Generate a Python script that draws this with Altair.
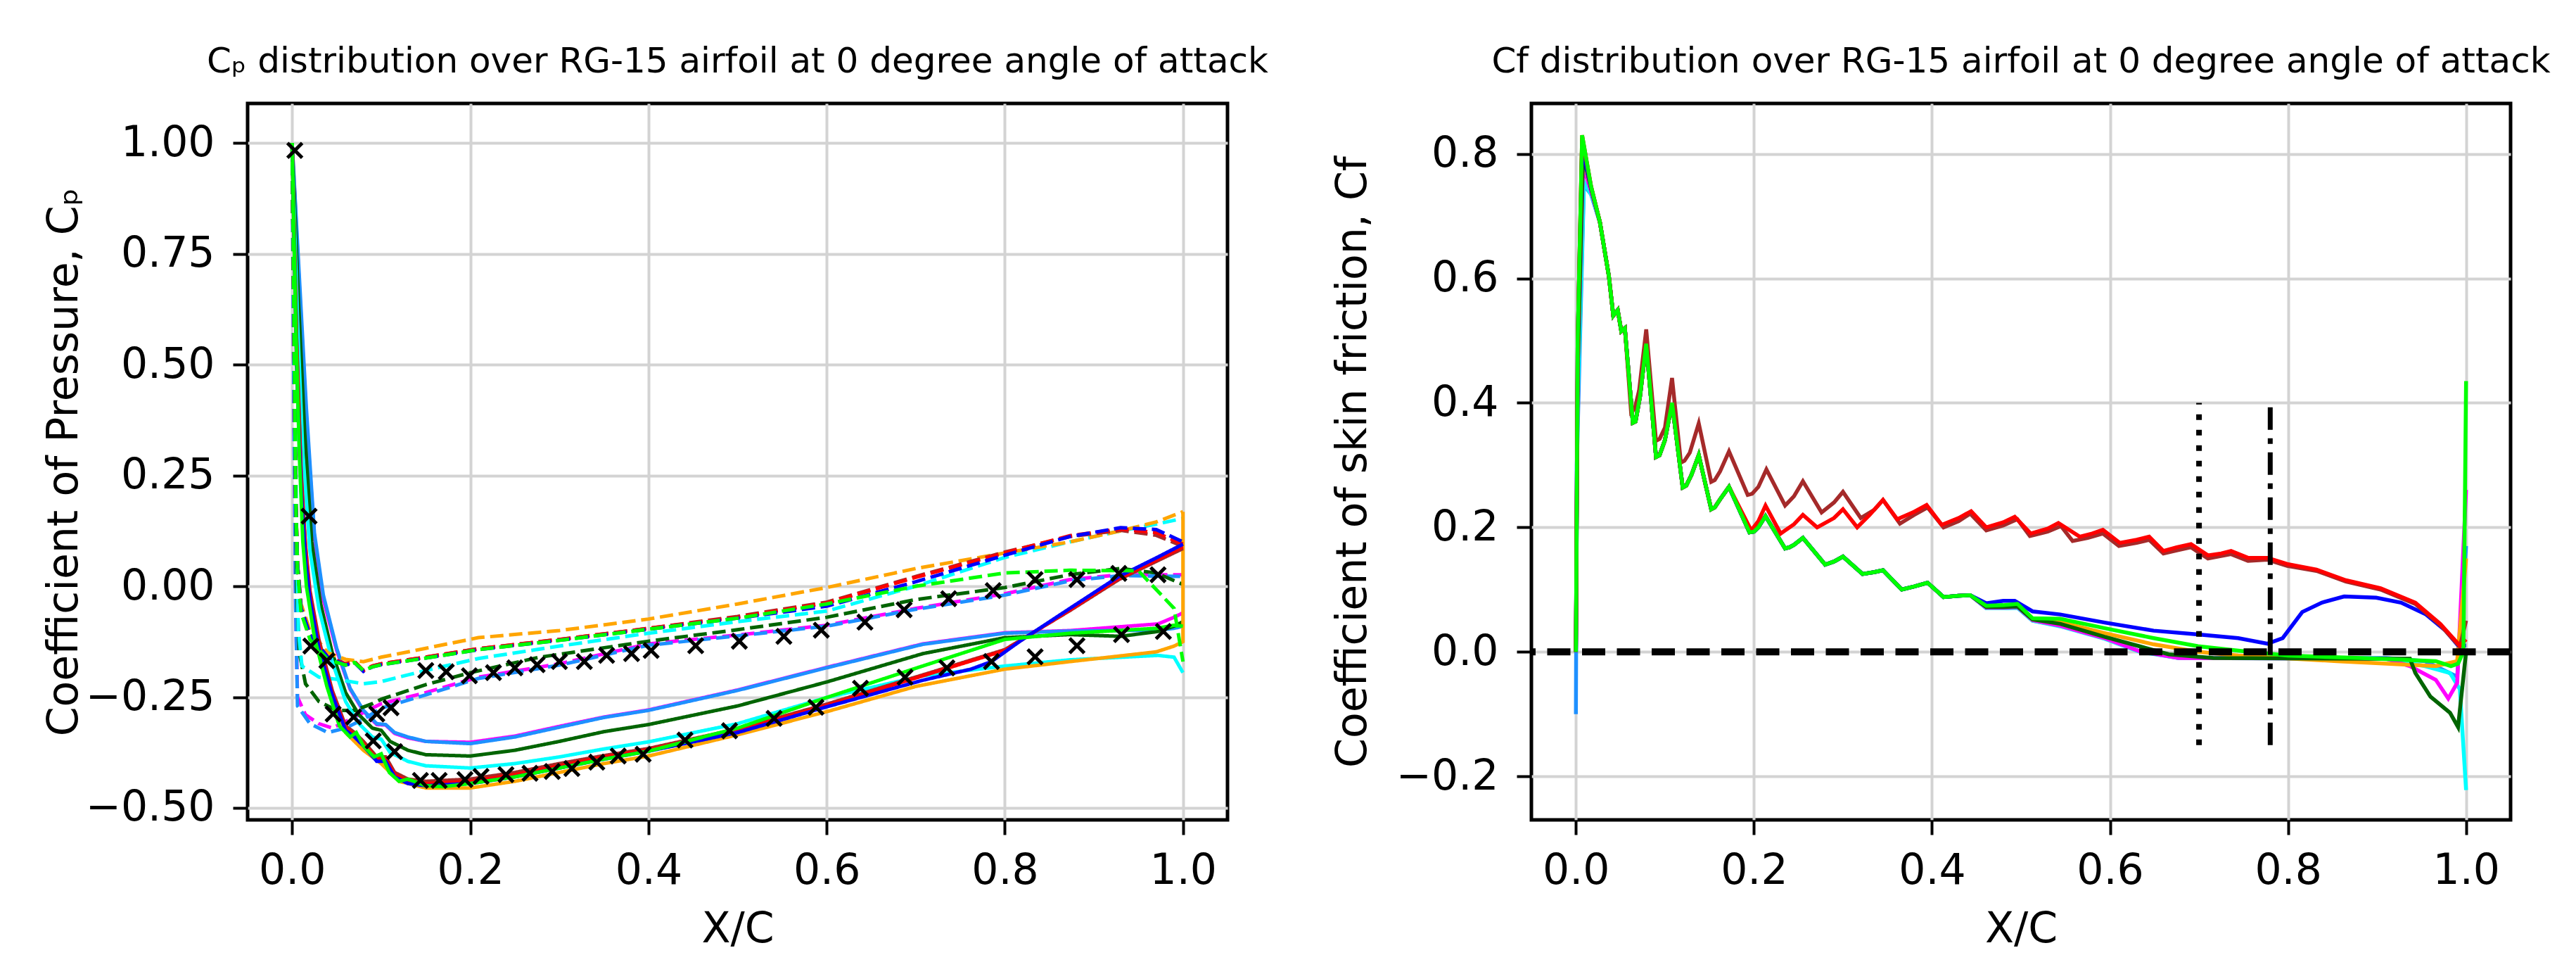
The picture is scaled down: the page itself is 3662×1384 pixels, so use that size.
import altair as alt
import pandas as pd

FONT = "DejaVu Sans"

# ---------------- colours (one per simulation case) ----------------
series_names = ["red", "brown", "blue", "orange", "lime", "darkgreen", "cyan", "dodgerblue", "magenta"]
series_colors = ["#ff0000", "#a52a2a", "#0000ff", "#ffa500", "#00ff00", "#006400", "#00ffff", "#1e90ff", "#ff00ff"]

# ---------------- Cp : suction side (solid) ----------------
cp_red_solid = [(0.0, 1.0), (0.005, 0.55), (0.01, 0.25), (0.015, 0.08), (0.02, -0.02), (0.03, -0.13), (0.045, -0.24),
                (0.06, -0.32), (0.07, -0.335), (0.08, -0.355), (0.095, -0.39), (0.105, -0.39), (0.115, -0.425),
                (0.13, -0.44), (0.15, -0.445), (0.2, -0.44), (0.25, -0.425), (0.3, -0.405), (0.35, -0.385),
                (0.4, -0.369), (0.5, -0.325), (0.6, -0.269), (0.708, -0.202), (0.8, -0.145), (0.873, -0.053),
                (0.928, 0.018), (0.972, 0.061), (1.0, 0.089)]
cp_brown_solid = [(0.0, 1.0), (0.005, 0.56), (0.01, 0.26), (0.015, 0.09), (0.02, -0.01), (0.03, -0.12), (0.045, -0.235),
                  (0.06, -0.315), (0.07, -0.33), (0.08, -0.35), (0.095, -0.385), (0.105, -0.385), (0.115, -0.42),
                  (0.13, -0.435), (0.15, -0.44), (0.2, -0.435), (0.25, -0.42), (0.3, -0.4), (0.35, -0.382),
                  (0.4, -0.366), (0.5, -0.322), (0.6, -0.266), (0.708, -0.2), (0.8, -0.143), (0.873, -0.055),
                  (0.928, 0.015), (0.972, 0.058), (1.0, 0.085)]
cp_blue_solid = [(0.0, 1.0), (0.005, 0.5), (0.01, 0.22), (0.015, 0.06), (0.02, -0.03), (0.03, -0.14), (0.045, -0.245),
                 (0.06, -0.325), (0.07, -0.34), (0.08, -0.36), (0.095, -0.395), (0.105, -0.395), (0.115, -0.43),
                 (0.13, -0.445), (0.15, -0.45), (0.2, -0.445), (0.25, -0.43), (0.3, -0.41), (0.35, -0.39),
                 (0.4, -0.372), (0.5, -0.33), (0.6, -0.272), (0.708, -0.212), (0.762, -0.187), (0.785, -0.17),
                 (0.817, -0.124), (0.873, -0.05), (0.928, 0.022), (0.972, 0.066), (1.0, 0.095)]
cp_orange_solid = [(0.0, 1.0), (0.005, 0.5), (0.01, 0.22), (0.02, -0.03), (0.03, -0.14), (0.045, -0.25), (0.06, -0.33),
                   (0.08, -0.37), (0.1, -0.4), (0.12, -0.44), (0.15, -0.455), (0.2, -0.455), (0.25, -0.44),
                   (0.3, -0.42), (0.35, -0.4), (0.4, -0.383), (0.5, -0.335), (0.6, -0.283), (0.7, -0.226),
                   (0.8, -0.187), (0.873, -0.17), (0.97, -0.148), (0.99, -0.135), (1.0, -0.125), (1.0, 0.168)]
cp_lime_solid = [(0.0, 1.0), (0.004, 0.6), (0.008, 0.3), (0.012, 0.1), (0.016, 0.0), (0.025, -0.115), (0.039, -0.226),
                 (0.053, -0.315), (0.065, -0.34), (0.072, -0.33), (0.08, -0.36), (0.092, -0.385), (0.1, -0.378),
                 (0.109, -0.42), (0.12, -0.44), (0.13, -0.435), (0.15, -0.45), (0.17, -0.452), (0.2, -0.445),
                 (0.25, -0.43), (0.3, -0.41), (0.35, -0.39), (0.4, -0.372), (0.5, -0.32), (0.6, -0.251),
                 (0.7, -0.185), (0.8, -0.12), (0.873, -0.106), (0.97, -0.095), (0.99, -0.088), (1.0, -0.09)]
cp_cyan_solid = [(0.0, 1.0), (0.006, 0.6), (0.012, 0.3), (0.02, 0.08), (0.03, -0.05), (0.045, -0.17), (0.06, -0.26),
                 (0.075, -0.31), (0.09, -0.34), (0.1, -0.345), (0.11, -0.375), (0.13, -0.395), (0.15, -0.405),
                 (0.2, -0.41), (0.25, -0.4), (0.3, -0.385), (0.35, -0.367), (0.4, -0.351), (0.5, -0.31),
                 (0.6, -0.251), (0.708, -0.202), (0.8, -0.18), (0.873, -0.166), (0.972, -0.156), (0.99, -0.16),
                 (1.0, -0.195)]
cp_darkgreen_solid = [(0.0, 1.0), (0.007, 0.65), (0.014, 0.35), (0.022, 0.1), (0.032, -0.04), (0.045, -0.15),
                      (0.06, -0.24), (0.075, -0.29), (0.09, -0.32), (0.1, -0.325), (0.11, -0.35), (0.13, -0.37),
                      (0.15, -0.38), (0.2, -0.383), (0.25, -0.37), (0.3, -0.35), (0.35, -0.328), (0.4, -0.312),
                      (0.5, -0.27), (0.6, -0.216), (0.708, -0.152), (0.8, -0.116), (0.873, -0.109), (0.93, -0.113),
                      (0.972, -0.102), (0.99, -0.09), (1.0, -0.08)]
cp_dodgerblue_solid = [(0.0, 1.0), (0.008, 0.7), (0.016, 0.4), (0.025, 0.12), (0.035, -0.02), (0.05, -0.14),
                       (0.065, -0.23), (0.08, -0.28), (0.095, -0.31), (0.105, -0.312), (0.115, -0.33), (0.13, -0.34),
                       (0.15, -0.35), (0.2, -0.355), (0.25, -0.34), (0.3, -0.318), (0.35, -0.296), (0.4, -0.28),
                       (0.5, -0.235), (0.6, -0.184), (0.708, -0.131), (0.8, -0.106), (0.873, -0.101),
                       (0.972, -0.099), (0.99, -0.095), (1.0, -0.09)]
cp_magenta_solid = [(0.0, 1.0), (0.008, 0.68), (0.016, 0.38), (0.025, 0.11), (0.035, -0.03), (0.05, -0.145),
                    (0.065, -0.232), (0.08, -0.282), (0.095, -0.312), (0.105, -0.313), (0.115, -0.332), (0.13, -0.342),
                    (0.15, -0.35), (0.2, -0.352), (0.25, -0.338), (0.3, -0.316), (0.35, -0.295), (0.4, -0.279),
                    (0.5, -0.234), (0.6, -0.183), (0.708, -0.13), (0.8, -0.105), (0.873, -0.1), (0.972, -0.085),
                    (0.99, -0.07), (1.0, -0.06)]

# ---------------- Cp : pressure side (dashed) ----------------
cp_red_dashed = [(0.0, 1.0), (0.002, 0.6), (0.004, 0.2), (0.006, 0.05), (0.01, -0.05), (0.02, -0.11), (0.04, -0.16),
                 (0.06, -0.175), (0.07, -0.17), (0.08, -0.19), (0.09, -0.18), (0.1, -0.175), (0.15, -0.16),
                 (0.209, -0.141), (0.3, -0.12), (0.4, -0.095), (0.5, -0.07), (0.6, -0.038), (0.7, 0.02),
                 (0.8, 0.075), (0.873, 0.114), (0.93, 0.129), (0.97, 0.121), (1.0, 0.095)]
cp_brown_dashed = [(0.0, 1.0), (0.002, 0.6), (0.004, 0.2), (0.006, 0.05), (0.01, -0.05), (0.02, -0.11),
                   (0.04, -0.16), (0.06, -0.175), (0.07, -0.17), (0.08, -0.19), (0.09, -0.18), (0.1, -0.175),
                   (0.15, -0.16), (0.209, -0.141), (0.3, -0.12), (0.4, -0.095), (0.5, -0.068), (0.6, -0.036),
                   (0.7, 0.022), (0.8, 0.077), (0.873, 0.112), (0.93, 0.126), (0.97, 0.115), (1.0, 0.09)]
cp_blue_dashed = [(0.0, 1.0), (0.002, 0.6), (0.004, 0.2), (0.006, 0.05), (0.01, -0.05), (0.02, -0.11), (0.04, -0.16),
                  (0.06, -0.178), (0.07, -0.172), (0.08, -0.192), (0.09, -0.182), (0.1, -0.177), (0.15, -0.162),
                  (0.209, -0.143), (0.3, -0.122), (0.4, -0.097), (0.5, -0.072), (0.6, -0.045), (0.7, 0.01),
                  (0.8, 0.07), (0.873, 0.112), (0.93, 0.132), (0.97, 0.128), (1.0, 0.1)]
cp_orange_dashed = [(0.0, 1.0), (0.002, 0.6), (0.004, 0.2), (0.006, 0.05), (0.01, -0.04), (0.02, -0.1),
                    (0.04, -0.15), (0.06, -0.165), (0.08, -0.17), (0.1, -0.16), (0.15, -0.14), (0.209, -0.116),
                    (0.3, -0.1), (0.4, -0.074), (0.5, -0.04), (0.6, -0.003), (0.7, 0.04), (0.8, 0.075),
                    (0.873, 0.1), (0.93, 0.125), (0.97, 0.145), (1.0, 0.168)]
cp_lime_dashed = [(0.0, 1.0), (0.002, 0.6), (0.004, 0.2), (0.006, 0.04), (0.01, -0.06), (0.02, -0.12), (0.04, -0.165),
                  (0.06, -0.178), (0.07, -0.172), (0.08, -0.19), (0.09, -0.182), (0.1, -0.177), (0.15, -0.162),
                  (0.209, -0.143), (0.3, -0.122), (0.4, -0.097), (0.5, -0.072), (0.6, -0.04), (0.7, 0.0),
                  (0.8, 0.03), (0.873, 0.036), (0.95, 0.035), (0.99, -0.05), (1.0, -0.17)]
cp_cyan_dashed = [(0.0, 1.0), (0.003, 0.5), (0.005, 0.1), (0.007, -0.1), (0.011, -0.18), (0.03, -0.205),
                  (0.05, -0.21), (0.08, -0.22), (0.1, -0.215), (0.15, -0.19), (0.209, -0.163), (0.3, -0.135),
                  (0.4, -0.106), (0.5, -0.08), (0.6, -0.056), (0.7, 0.0), (0.8, 0.065), (0.873, 0.1),
                  (0.93, 0.125), (0.97, 0.14), (1.0, 0.153)]
cp_darkgreen_dashed = [(0.0, 1.0), (0.003, 0.4), (0.005, 0.0), (0.008, -0.15), (0.015, -0.22), (0.03, -0.26),
                       (0.05, -0.28), (0.07, -0.28), (0.09, -0.265), (0.1, -0.255), (0.15, -0.222), (0.2, -0.195),
                       (0.278, -0.16), (0.4, -0.124), (0.5, -0.098), (0.6, -0.07), (0.7, -0.03), (0.8, -0.003),
                       (0.873, 0.026), (0.93, 0.04), (0.97, 0.03), (1.0, 0.004)]
cp_magenta_dashed = [(0.0, 1.0), (0.002, 0.4), (0.004, -0.05), (0.006, -0.25), (0.015, -0.29), (0.03, -0.31),
                     (0.045, -0.32), (0.06, -0.305), (0.08, -0.285), (0.1, -0.265), (0.15, -0.24), (0.209, -0.205),
                     (0.3, -0.175), (0.4, -0.13), (0.5, -0.11), (0.6, -0.088), (0.7, -0.05), (0.8, -0.017),
                     (0.873, 0.015), (0.93, 0.026), (1.0, 0.026)]
cp_dodgerblue_dashed = [(0.0, 1.0), (0.002, 0.4), (0.004, -0.05), (0.006, -0.27), (0.02, -0.31), (0.04, -0.33),
                        (0.06, -0.32), (0.08, -0.3), (0.1, -0.275), (0.15, -0.245), (0.209, -0.208), (0.3, -0.178),
                        (0.4, -0.133), (0.5, -0.112), (0.6, -0.09), (0.7, -0.052), (0.8, -0.02), (0.873, 0.012),
                        (0.93, 0.024), (1.0, 0.022)]

# ---------------- Cp : experimental points (x markers) ----------------
cp_exp_x = [0.003, 0.019, 0.021, 0.039, 0.046, 0.069, 0.095, 0.111, 0.091, 0.115, 0.144, 0.165, 0.194, 0.212, 0.24,
            0.267, 0.292, 0.314, 0.342, 0.366, 0.394, 0.441, 0.491, 0.541, 0.588, 0.638, 0.688, 0.735, 0.785, 0.834,
            0.881, 0.931, 0.978,
            0.15, 0.173, 0.199, 0.226, 0.25, 0.275, 0.3, 0.328, 0.353, 0.381, 0.403, 0.453, 0.502, 0.552, 0.594,
            0.643, 0.687, 0.737, 0.787, 0.834, 0.881, 0.928, 0.972]
cp_exp_y = [0.983, 0.158, -0.135, -0.168, -0.288, -0.295, -0.288, -0.274, -0.349, -0.373, -0.438, -0.438, -0.436,
            -0.429, -0.425, -0.422, -0.418, -0.411, -0.397, -0.383, -0.379, -0.347, -0.326, -0.298, -0.273, -0.23,
            -0.205, -0.184, -0.17, -0.159, -0.134, -0.109, -0.102,
            -0.19, -0.193, -0.202, -0.195, -0.184, -0.177, -0.17, -0.17, -0.156, -0.152, -0.145, -0.134, -0.124,
            -0.113, -0.099, -0.081, -0.053, -0.028, -0.01, 0.015, 0.015, 0.029, 0.026]

# ---------------- Cf : skin friction ----------------
cf_lead_shared = [(0.027, 0.69), (0.037, 0.604), (0.042, 0.54), (0.047, 0.549), (0.051, 0.515), (0.055, 0.52)]
cf_lower_teeth = [(0.064, 0.368), (0.067, 0.37), (0.072, 0.41), (0.079, 0.495), (0.09, 0.313), (0.094, 0.316),
                  (0.1, 0.34), (0.108, 0.4), (0.12, 0.264), (0.124, 0.267), (0.13, 0.285), (0.138, 0.316),
                  (0.152, 0.229), (0.156, 0.232), (0.162, 0.245), (0.172, 0.265)]
cf_lower_mid = [(0.195, 0.192), (0.2, 0.193), (0.205, 0.2), (0.213, 0.218), (0.235, 0.166), (0.24, 0.168),
                (0.245, 0.172), (0.255, 0.183), (0.28, 0.14), (0.29, 0.145), (0.3, 0.153), (0.322, 0.125),
                (0.335, 0.128), (0.345, 0.131), (0.366, 0.1), (0.38, 0.105), (0.395, 0.111), (0.413, 0.088),
                (0.43, 0.09), (0.443, 0.091)]

cf_brown = [(0.0, 0.0), (0.002, 0.5), (0.007, 0.825), (0.017, 0.748)] + cf_lead_shared + [
    (0.062, 0.385), (0.066, 0.39), (0.071, 0.42), (0.079, 0.518), (0.09, 0.339), (0.094, 0.342), (0.1, 0.36),
    (0.108, 0.44), (0.118, 0.304), (0.122, 0.307), (0.128, 0.32), (0.138, 0.367), (0.152, 0.273), (0.156, 0.276),
    (0.162, 0.29), (0.172, 0.322), (0.193, 0.252), (0.198, 0.254), (0.205, 0.265), (0.214, 0.293), (0.235, 0.235),
    (0.245, 0.25), (0.255, 0.274), (0.276, 0.224), (0.29, 0.24), (0.3, 0.257), (0.32, 0.215), (0.335, 0.228),
    (0.345, 0.244), (0.364, 0.206), (0.38, 0.22), (0.395, 0.232), (0.413, 0.2), (0.43, 0.21), (0.443, 0.222),
    (0.461, 0.195), (0.48, 0.203), (0.496, 0.213), (0.51, 0.186), (0.53, 0.193), (0.545, 0.202), (0.558, 0.178),
    (0.575, 0.183), (0.592, 0.19), (0.61, 0.17), (0.63, 0.175), (0.644, 0.18), (0.66, 0.158), (0.675, 0.163),
    (0.691, 0.168), (0.71, 0.15), (0.736, 0.157), (0.755, 0.146), (0.777, 0.148), (0.799, 0.138), (0.832, 0.13),
    (0.865, 0.113), (0.904, 0.1), (0.943, 0.077), (0.971, 0.043), (0.993, 0.008), (1.0, 0.05)]
cf_red = [(0.0, 0.0), (0.002, 0.5), (0.007, 0.83), (0.017, 0.748)] + cf_lead_shared + cf_lower_teeth + [
    (0.197, 0.195), (0.205, 0.21), (0.213, 0.235), (0.23, 0.19), (0.245, 0.205), (0.255, 0.22), (0.271, 0.2),
    (0.29, 0.215), (0.3, 0.229), (0.316, 0.2), (0.33, 0.22), (0.345, 0.244), (0.361, 0.213), (0.38, 0.225),
    (0.394, 0.236), (0.411, 0.204), (0.43, 0.215), (0.444, 0.226), (0.461, 0.2), (0.48, 0.208), (0.493, 0.217),
    (0.511, 0.19), (0.53, 0.198), (0.542, 0.207), (0.566, 0.185), (0.58, 0.19), (0.592, 0.196), (0.611, 0.175),
    (0.63, 0.18), (0.644, 0.185), (0.66, 0.162), (0.675, 0.168), (0.691, 0.173), (0.71, 0.155), (0.725, 0.158),
    (0.736, 0.162), (0.755, 0.151), (0.777, 0.151), (0.799, 0.141), (0.832, 0.132), (0.865, 0.115),
    (0.904, 0.102), (0.943, 0.079), (0.971, 0.045), (0.993, 0.01), (1.0, 0.02)]
cf_lime = [(0.0, 0.0), (0.002, 0.5), (0.007, 0.83), (0.017, 0.748)] + cf_lead_shared + cf_lower_teeth + cf_lower_mid + [
    (0.461, 0.074), (0.48, 0.075), (0.496, 0.077), (0.513, 0.054), (0.544, 0.053), (0.594, 0.038), (0.649, 0.022),
    (0.699, 0.009), (0.744, 0.002), (0.8, -0.006), (0.882, -0.01), (0.966, -0.015), (0.983, -0.023),
    (0.991, -0.019), (0.997, 0.0), (1.0, 0.435)]
cf_blue = [(0.0, 0.0), (0.002, 0.5), (0.007, 0.81), (0.017, 0.745)] + cf_lead_shared + cf_lower_teeth + cf_lower_mid + [
    (0.461, 0.078), (0.48, 0.082), (0.493, 0.082), (0.513, 0.065), (0.544, 0.06), (0.594, 0.047), (0.649, 0.034),
    (0.699, 0.028), (0.744, 0.022), (0.777, 0.013), (0.794, 0.022), (0.816, 0.064), (0.838, 0.079),
    (0.863, 0.089), (0.899, 0.087), (0.927, 0.079), (0.955, 0.06), (0.977, 0.034), (0.991, 0.01), (1.0, 0.01)]
cf_orange = [(0.0, 0.0), (0.002, 0.45), (0.007, 0.8), (0.017, 0.745)] + cf_lead_shared + cf_lower_teeth + cf_lower_mid + [
    (0.461, 0.073), (0.48, 0.074), (0.496, 0.075), (0.513, 0.052), (0.544, 0.048), (0.594, 0.03), (0.649, 0.012),
    (0.699, 0.0), (0.744, -0.006), (0.855, -0.015), (0.966, -0.023), (0.99, -0.015), (1.0, 0.15)]
cf_darkgreen = [(0.0, 0.0), (0.002, 0.45), (0.008, 0.8), (0.017, 0.745)] + cf_lead_shared + cf_lower_teeth + cf_lower_mid + [
    (0.461, 0.072), (0.48, 0.072), (0.496, 0.073), (0.513, 0.052), (0.544, 0.045), (0.594, 0.024),
    (0.633, 0.009), (0.666, -0.004), (0.716, -0.01), (0.9, -0.011), (0.937, -0.011), (0.943, -0.034),
    (0.96, -0.072), (0.982, -0.098), (0.991, -0.121), (1.0, 0.0)]
cf_cyan = [(0.0, 0.0), (0.002, 0.4), (0.009, 0.755), (0.017, 0.735)] + cf_lead_shared + cf_lower_teeth + cf_lower_mid + [
    (0.461, 0.07), (0.48, 0.07), (0.496, 0.071), (0.513, 0.05), (0.544, 0.041), (0.594, 0.021), (0.633, 0.0),
    (0.677, -0.01), (0.91, -0.011), (0.954, -0.023), (0.982, -0.034), (0.993, -0.06), (1.0, -0.222)]
cf_dodgerblue = [(0.0, -0.1), (0.001, 0.3), (0.009, 0.75), (0.017, 0.735)] + cf_lead_shared + cf_lower_teeth + cf_lower_mid + [
    (0.461, 0.07), (0.48, 0.07), (0.496, 0.071), (0.513, 0.05), (0.544, 0.042), (0.594, 0.022), (0.633, 0.001),
    (0.677, -0.01), (0.91, -0.01), (0.954, -0.015), (0.99, -0.04), (1.0, 0.17)]
cf_magenta = [(0.0, 0.0), (0.002, 0.45), (0.008, 0.78), (0.017, 0.74)] + cf_lead_shared + cf_lower_teeth + cf_lower_mid + [
    (0.461, 0.071), (0.48, 0.071), (0.496, 0.072), (0.513, 0.051), (0.544, 0.042), (0.594, 0.022),
    (0.633, 0.001), (0.677, -0.01), (0.91, -0.011), (0.937, -0.023), (0.966, -0.045), (0.98, -0.075),
    (0.99, -0.05), (1.0, 0.26)]

# reference lines on the Cf panel
cf_vline_x = [0.7, 0.78]
cf_vline_y0 = [-0.15, -0.15]
cf_vline_y1 = [0.4, 0.4]
cf_vline_kind = ["dotted", "dashdot"]

# axis ticks
x_ticks = [0.0, 0.2, 0.4, 0.6, 0.8, 1.0]
cp_ticks = [-0.5, -0.25, 0.0, 0.25, 0.5, 0.75, 1.0]
cf_ticks = [-0.2, 0.0, 0.2, 0.4, 0.6, 0.8]

# ---------------- tables ----------------
cp_lines = [
    ("magenta", "solid", cp_magenta_solid), ("magenta", "dashed", cp_magenta_dashed),
    ("dodgerblue", "solid", cp_dodgerblue_solid), ("dodgerblue", "dashed", cp_dodgerblue_dashed),
    ("darkgreen", "solid", cp_darkgreen_solid), ("darkgreen", "dashed", cp_darkgreen_dashed),
    ("cyan", "solid", cp_cyan_solid), ("cyan", "dashed", cp_cyan_dashed),
    ("orange", "solid", cp_orange_solid), ("orange", "dashed", cp_orange_dashed),
    ("brown", "solid", cp_brown_solid), ("brown", "dashed", cp_brown_dashed),
    ("red", "solid", cp_red_solid), ("red", "dashed", cp_red_dashed),
    ("blue", "solid", cp_blue_solid), ("blue", "dashed", cp_blue_dashed),
    ("lime", "solid", cp_lime_solid), ("lime", "dashed", cp_lime_dashed),
]
rows = []
for k, (name, style, pts) in enumerate(cp_lines):
    for i, (x, y) in enumerate(pts):
        rows.append({"x": x, "y": y, "series": name, "style": style, "line": f"{k:02d}-{name}-{style}", "idx": i})
cp_df = pd.DataFrame(rows)
cp_exp_df = pd.DataFrame({"x": cp_exp_x, "y": cp_exp_y})

cf_lines = [("dodgerblue", cf_dodgerblue), ("cyan", cf_cyan), ("magenta", cf_magenta), ("orange", cf_orange),
            ("darkgreen", cf_darkgreen), ("blue", cf_blue), ("brown", cf_brown), ("red", cf_red), ("lime", cf_lime)]
rows = []
for k, (name, pts) in enumerate(cf_lines):
    for i, (x, y) in enumerate(pts):
        rows.append({"x": x, "y": y, "series": name, "line": f"{k:02d}-{name}", "idx": i})
cf_df = pd.DataFrame(rows)
cf_vdf = pd.DataFrame({"x": cf_vline_x, "y": cf_vline_y0, "y2": cf_vline_y1, "kind": cf_vline_kind})
cf_zero = pd.DataFrame({"y": [0.0]})

color_scale = alt.Scale(domain=series_names, range=series_colors)


def x_enc():
    return alt.X("x:Q", scale=alt.Scale(domain=[-0.05, 1.05], nice=False, zero=False),
                 axis=alt.Axis(values=x_ticks, format=".1f", title="X/C"))


def y_cp():
    return alt.Y("y:Q", scale=alt.Scale(domain=[-0.527, 1.089], nice=False, zero=False),
                 axis=alt.Axis(values=cp_ticks, format=".2f", title="Coefficient of Pressure, Cₚ"))


def y_cf():
    return alt.Y("y:Q", scale=alt.Scale(domain=[-0.27, 0.881], nice=False, zero=False),
                 axis=alt.Axis(values=cf_ticks, format=".1f", title="Coefficient of skin friction, Cf"))


cp_line_chart = alt.Chart(cp_df).mark_line(strokeWidth=5).encode(
    x=x_enc(), y=y_cp(),
    color=alt.Color("series:N", scale=color_scale, legend=None),
    strokeDash=alt.StrokeDash("style:N", scale=alt.Scale(domain=["solid", "dashed"], range=[[1, 0], [19, 8]]),
                              legend=None),
    detail="line:N",
    order="idx:Q",
)
cp_points = alt.Chart(cp_exp_df).mark_point(
    shape="M-1,-1L1,1M-1,1L1,-1", size=440, strokeWidth=5, color="black", filled=False, opacity=1
).encode(x=x_enc(), y=y_cp())

left = alt.layer(cp_line_chart, cp_points).properties(
    width=1393, height=1018,
    title="Cₚ distribution over RG-15 airfoil at 0 degree angle of attack",
)

cf_line_chart = alt.Chart(cf_df).mark_line(strokeWidth=5.5).encode(
    x=x_enc(), y=y_cf(),
    color=alt.Color("series:N", scale=color_scale, legend=None),
    detail="line:N",
    order="idx:Q",
)
cf_zero_line = alt.Chart(cf_zero).mark_rule(color="black", strokeWidth=10, strokeDash=[33, 16.5]).encode(y=y_cf())
cf_dotted = alt.Chart(cf_vdf).transform_filter(alt.datum.kind == "dotted").mark_rule(
    color="black", strokeWidth=8, strokeDash=[8, 14]
).encode(x=x_enc(), y=y_cf(), y2="y2:Q")
cf_dashdot = alt.Chart(cf_vdf).transform_filter(alt.datum.kind == "dashdot").mark_rule(
    color="black", strokeWidth=7, strokeDash=[32, 12, 8, 12]
).encode(x=x_enc(), y=y_cf(), y2="y2:Q")

right = alt.layer(cf_line_chart, cf_zero_line, cf_dotted, cf_dashdot).properties(
    width=1392, height=1018,
    title="Cf distribution over RG-15 airfoil at 0 degree angle of attack",
)

chart = alt.hconcat(left, right, spacing=432, bounds="flush").properties(
    padding={"left": 50, "top": 52, "right": 10, "bottom": 10}
).configure_view(
    stroke="black", strokeWidth=5
).configure_axis(
    grid=True, gridColor="#d3d3d3", gridWidth=4, domain=False,
    tickColor="black", tickSize=21, tickWidth=4,
    labelFont=FONT, labelFontSize=60, labelColor="black", labelPadding=26, labelFlush=False, labelLimit=500,
    titleFont=FONT, titleFontSize=60, titleFontWeight="normal", titleColor="black", titleLimit=2000,
).configure_axisX(labelPadding=22, titlePadding=24).configure_axisY(titlePadding=30).configure_title(
    font=FONT, fontSize=50, fontWeight="normal", color="black", anchor="middle", offset=34, baseline="alphabetic"
)

chart.save("out.html", embed_options={"renderer": "svg", "actions": False})
